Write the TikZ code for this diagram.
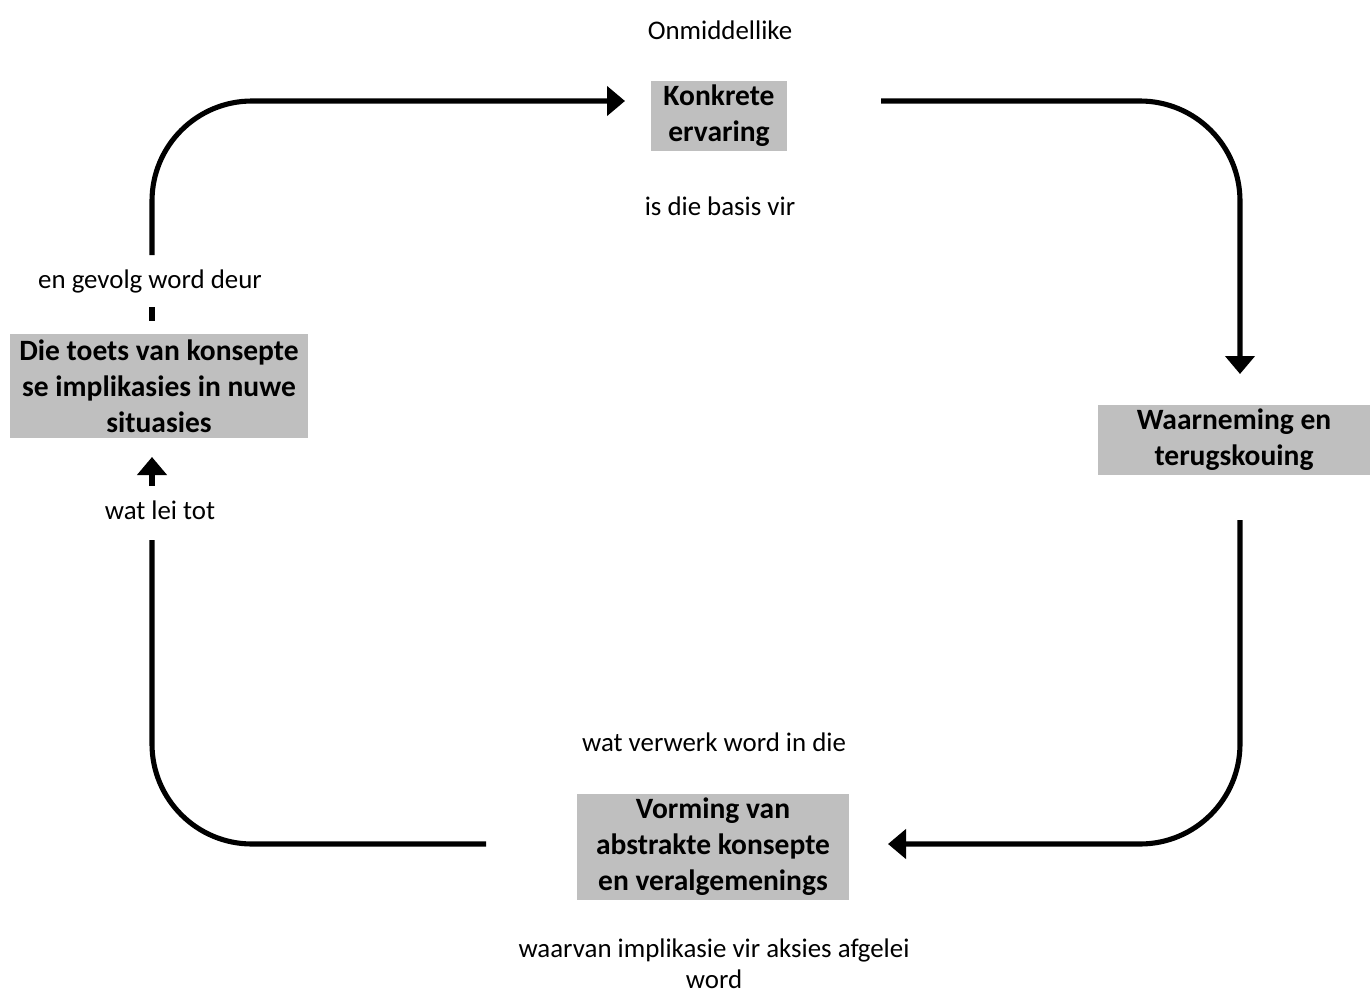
\documentclass[tikz,border=0pt]{standalone}
\usepackage{fontspec}
\setmainfont{Carlito}
\usetikzlibrary{arrows.meta}
\begin{document}
\begin{tikzpicture}[x=0.02cm,y=-0.02cm]
\tikzstyle{cyc}= [line width=2.9pt,rounded corners=2cm]
\tikzstyle{tip}= [-{Triangle[length=0.36cm,width=0.58cm]}]
\tikzstyle{stage}= [rectangle,fill=black!25,font=\fontsize{16.8}{20.5}\selectfont\bfseries,align=center,inner sep=0pt]
\tikzstyle{lbl}= [font=\fontsize{15.3}{17.2}\selectfont,align=center]

\useasboundingbox (0,0) rectangle (1370,994);

\path
	( 719,116) node[stage,minimum width=2.72cm,minimum height=1.42cm] (konkreet) {Konkrete\\ervaring}
	(1234,440) node[stage,minimum width=5.46cm,minimum height=1.42cm] (waarneming) {Waarneming en\\terugskouing}
	( 713,847) node[stage,minimum width=5.46cm,minimum height=2.14cm] (vorming) {Vorming van\\abstrakte konsepte\\en veralgemenings}
	( 159,386) node[stage,minimum width=5.96cm,minimum height=2.1cm] (toets) {Die toets van konsepte\\se implikasies in nuwe\\situasies}
	( 720, 30) node[lbl] (onmiddellik) {Onmiddellike}
	( 720,206) node[lbl] (basis) {is die basis vir}
	( 714,742) node[lbl] (verwerk) {wat verwerk word in die}
	( 714,988) node[lbl,anchor=base] (afgelei) {waarvan implikasie vir aksies afgelei\\word}
	( 160,510) node[lbl] (leitot) {wat lei tot}
	( 150,281) node[lbl] (gevolg) {en gevolg word deur}
;
\coordinate (toets-uit) at (152,255);
\coordinate (konkreet-in) at (625,101);
\coordinate (konkreet-uit) at (881,101);
\coordinate (waarneming-in) at (1240,374);
\coordinate (waarneming-uit) at (1240,520);
\coordinate (vorming-in) at (888,844);
\coordinate (vorming-uit) at (486,844);
\coordinate (leitot-in) at (152,540);
\coordinate (leitot-uit) at (152,486);
\coordinate (toets-in) at (152,457);
\coordinate (gevolg-in) at (152,307);
\coordinate (toets-top) at (152,321);

\draw[cyc,tip] (toets-uit) |- (konkreet-in);
\draw[cyc,tip] (konkreet-uit) -| (waarneming-in);
\draw[cyc,tip] (waarneming-uit) |- (vorming-in);
\draw[cyc] (vorming-uit) -| (leitot-in);
\draw[cyc,tip] (leitot-uit) -- (toets-in);
\draw[cyc] (gevolg-in) -- (toets-top);
\end{tikzpicture}
\end{document}
